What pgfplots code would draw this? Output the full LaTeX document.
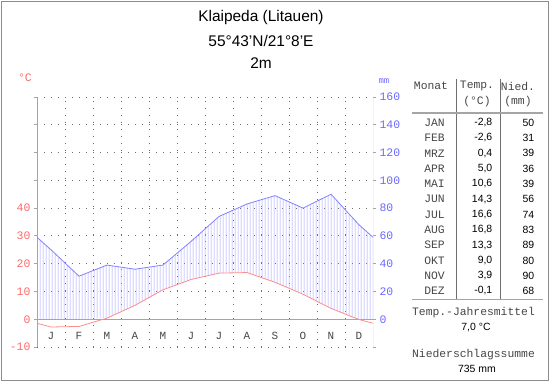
\documentclass[border=0pt]{standalone}
\usepackage{pgfplots}
\pgfplotsset{compat=1.18}
\usepackage{pgfplotstable}
\usepgfplotslibrary{fillbetween}
\usetikzlibrary{patterns}
\usepackage{fontspec}
\setmainfont{Liberation Sans}
\newfontfamily\mono{Liberation Mono}
\definecolor{tred}{RGB}{255,105,105}
\definecolor{tline}{RGB}{255,140,140}
\definecolor{pblue}{RGB}{105,105,255}
\definecolor{pline}{RGB}{130,130,255}
\definecolor{hatch}{RGB}{160,160,255}
\definecolor{framegray}{RGB}{140,140,140}
\definecolor{axgray}{RGB}{165,165,165}
\definecolor{txtgray}{RGB}{70,70,70}
\definecolor{dotgray}{RGB}{110,110,110}

\pgfdeclarepatternformonly{vhatch}{\pgfpointorigin}{\pgfqpoint{3bp}{10bp}}{\pgfqpoint{3bp}{10bp}}%
{%
  \pgfsetlinewidth{0.8bp}%
  \pgfpathmoveto{\pgfqpoint{1.5bp}{-1bp}}%
  \pgfpathlineto{\pgfqpoint{1.5bp}{11bp}}%
  \pgfusepath{stroke}%
}

\pgfplotstableread{
x     temp   prec
0     -1.45  59
0.5   -2.8   50
1.5   -2.6   31
2.5    0.4   39
3.5    5.0   36
4.5   10.6   39
5.5   14.3   56
6.5   16.6   74
7.5   16.8   83
8.5   13.3   89
9.5    9.0   80
10.5   3.9   90
11.5  -0.1   68
12    -1.45  59
}\climate

\begin{document}
\begin{tikzpicture}
\begin{axis}[
  at={(37bp,-347bp)}, anchor=south west,
  scale only axis, width=336bp, height=250bp,
  xmin=0, xmax=12, ymin=-10, ymax=80,
  axis line style={draw=none},
  no markers,
  xtick={0.5,1.5,...,11.5},
  xticklabels={J,F,M,A,M,J,J,A,S,O,N,D},
  minor xtick={1,...,11},
  minor tick length=0pt,
  xminorgrids, ymajorgrids,
  major grid style={dotgray, line width=1bp, dash pattern=on 1bp off 6bp},
  minor grid style={dotgray, line width=1bp, dash pattern=on 1bp off 6bp},
  x tick style={draw=none},
  x tick label style={font=\mono\fontsize{11}{11}\selectfont, text=txtgray, anchor=center, yshift=14bp},
  ytick={-10,0,...,80},
  yticklabels={-10,0,10,20,30,40,{},{},{},{}},
  ytick pos=left, tick align=outside, major tick length=3bp,
  y tick style={axgray, line width=0.9bp},
  y tick label style={font=\mono\fontsize{11.5}{11.5}\selectfont, text=tred},
]
\addplot[draw=none, name path=P] table[x=x, y expr=\thisrow{prec}/2] {\climate};
\addplot[draw=none, name path=L] table[x=x, y expr={max(\thisrow{temp},0)}] {\climate};
\addplot[draw=none, pattern=vhatch, pattern color=hatch] fill between[of=P and L];
\draw[axgray, line width=0.9bp] (axis cs:0,0) -- (axis cs:12,0);
\draw[axgray, line width=0.9bp] (axis cs:0,-10) -- (axis cs:0,80);
\draw[axgray, line width=0.9bp] (axis cs:12,-10) -- (axis cs:12,80);
\addplot[pline, line width=0.8bp] table[x=x, y expr=\thisrow{prec}/2] {\climate};
\addplot[tline, line width=0.8bp] table[x=x, y=temp] {\climate};
\end{axis}

\begin{axis}[
  at={(37bp,-347bp)}, anchor=south west,
  scale only axis, width=336bp, height=250bp,
  xmin=0, xmax=12, ymin=-20, ymax=160,
  axis line style={draw=none},
  xtick=\empty,
  ytick={-20,0,...,160},
  yticklabels={{},0,20,40,60,80,100,120,140,160},
  ytick pos=right, tick align=outside, major tick length=3bp,
  y tick style={axgray, line width=0.9bp},
  y tick label style={font=\mono\fontsize{11.5}{11.5}\selectfont, text=pblue},
]
\addplot[draw=none] coordinates {(0,0) (12,0)};
\end{axis}

\path[use as bounding box] (0,0) rectangle (550bp,-382bp);
\draw[framegray, line width=1bp] (1.5bp,-1.5bp) rectangle (548.5bp,-380.5bp);

\begin{scope}[x=1bp, y=-1bp]
\node[font=\fontsize{15.5}{18}\selectfont] at (261,18) {Klaipeda (Litauen)};
\node[font=\fontsize{15.5}{18}\selectfont] at (261,41) {55°43'N/21°8'E};
\node[font=\fontsize{15.5}{18}\selectfont] at (261,63) {2m};
\node[font=\mono\fontsize{11.5}{11.5}\selectfont, text=tred] at (25,78) {°C};
\node[font=\mono\fontsize{9}{9}\selectfont, text=pblue] at (384,81) {mm};

% table frame
\draw[dotgray, line width=1bp] (456,79) -- (456,299);
\draw[dotgray, line width=1bp] (500,79) -- (500,299);
\draw[axgray, line width=1.6bp] (412,113) -- (543,113);
\draw[axgray, line width=1.6bp] (412,299.5) -- (543,299.5);

\begin{scope}[every node/.style={font=\mono\fontsize{11.4}{11.4}\selectfont, text=txtgray}]
\node at (431,86) {Monat};
\node at (477,86) {Temp.};
\node at (477,102) {(°C)};
\node at (518,86) {Nied.};
\node at (518,102) {(mm)};
\node at (473.5,313) {Temp.-Jahresmittel};
\node at (473.5,355) {Niederschlagssumme};
\end{scope}
\node[font=\fontsize{10.5}{10.5}\selectfont] at (476,328) {7,0 °C};
\node[font=\fontsize{10.5}{10.5}\selectfont] at (477,369) {735 mm};

\begin{scope}[every node/.style={font=\mono\fontsize{11.4}{11.4}\selectfont, text=txtgray}]
\node at (434.5,122.7) {JAN};
\node at (434.5,138.0) {FEB};
\node at (434.5,153.3) {MRZ};
\node at (434.5,168.6) {APR};
\node at (434.5,183.9) {MAI};
\node at (434.5,199.2) {JUN};
\node at (434.5,214.5) {JUL};
\node at (434.5,229.8) {AUG};
\node at (434.5,245.1) {SEP};
\node at (434.5,260.4) {OKT};
\node at (434.5,275.7) {NOV};
\node at (434.5,291.0) {DEZ};
\end{scope}
\begin{scope}[every node/.style={font=\fontsize{10.5}{10.5}\selectfont, anchor=east, inner sep=0pt}]
\node at (492.5,122.7) {-2,8};
\node at (492.5,138.0) {-2,6};
\node at (492.5,153.3) {0,4};
\node at (492.5,168.6) {5,0};
\node at (492.5,183.9) {10,6};
\node at (492.5,199.2) {14,3};
\node at (492.5,214.5) {16,6};
\node at (492.5,229.8) {16,8};
\node at (492.5,245.1) {13,3};
\node at (492.5,260.4) {9,0};
\node at (492.5,275.7) {3,9};
\node at (492.5,291.0) {-0,1};
\node at (534.5,122.7) {50};
\node at (534.5,138.0) {31};
\node at (534.5,153.3) {39};
\node at (534.5,168.6) {36};
\node at (534.5,183.9) {39};
\node at (534.5,199.2) {56};
\node at (534.5,214.5) {74};
\node at (534.5,229.8) {83};
\node at (534.5,245.1) {89};
\node at (534.5,260.4) {80};
\node at (534.5,275.7) {90};
\node at (534.5,291.0) {68};
\end{scope}
\end{scope}
\end{tikzpicture}
\end{document}
